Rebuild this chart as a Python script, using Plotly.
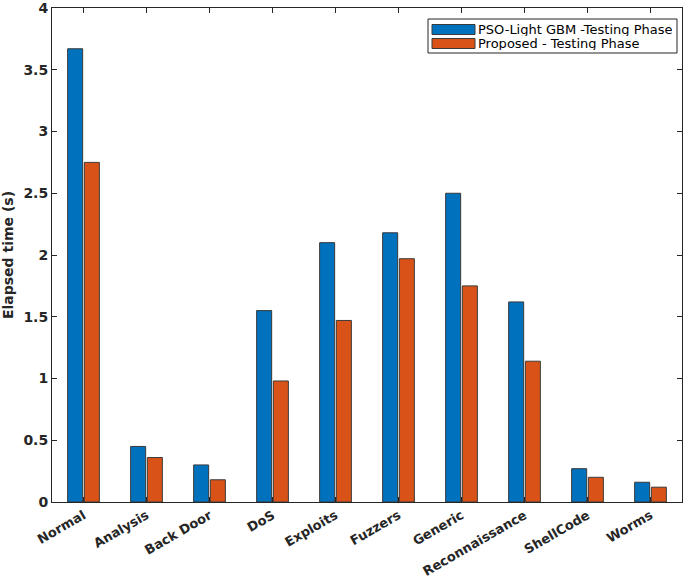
import plotly.graph_objects as go

categories = ["Normal", "Analysis", "Back Door", "DoS", "Exploits", "Fuzzers",
              "Generic", "Reconnaissance", "ShellCode", "Worms"]
pso_lgbm = [3.67, 0.45, 0.30, 1.55, 2.10, 2.18, 2.50, 1.62, 0.27, 0.16]
proposed = [2.75, 0.36, 0.18, 0.98, 1.47, 1.97, 1.75, 1.14, 0.20, 0.12]
series_names = ["PSO-Light GBM -Testing Phase", "Proposed - Testing Phase"]
series_colors = ["#0072BD", "#D95319"]
y_ticks = [0, 0.5, 1, 1.5, 2, 2.5, 3, 3.5, 4]
y_ticklabels = ["0", "0.5", "1", "1.5", "2", "2.5", "3", "3.5", "4"]

font_family = "DejaVu Sans"
edge = dict(color="#3a3a3a", width=1)

W, H = 685, 578
ML, MR, MT, MB = 52, 3, 8, 76
PW, PH = W - ML - MR, H - MT - MB


def px(x):
    return (x - ML) / PW


def py(y):
    return (H - MB - y) / PH


fig = go.Figure()
for vals, name, col in zip([pso_lgbm, proposed], series_names, series_colors):
    fig.add_trace(go.Bar(x=categories, y=vals, name=name,
                         marker=dict(color=col, line=edge), showlegend=False))

axis_common = dict(showline=True, linecolor="#262626", linewidth=1, mirror="ticks",
                   ticks="inside", ticklen=5, tickcolor="#262626", showgrid=False,
                   zeroline=False, automargin=False, ticklabeloverflow="allow")

# custom MATLAB-style legend
shapes = [dict(type="rect", xref="paper", yref="paper",
               x0=px(428), x1=px(677), y0=py(53), y1=py(19),
               line=dict(color="#262626", width=1), fillcolor="white", layer="above")]
annotations = []
for i, (name, col) in enumerate(zip(series_names, series_colors)):
    cy = 29.5 + 14 * i
    shapes.append(dict(type="rect", xref="paper", yref="paper",
                       x0=px(432), x1=px(475), y0=py(cy + 5), y1=py(cy - 5),
                       line=dict(color="#3a3a3a", width=1), fillcolor=col, layer="above"))
    annotations.append(dict(xref="paper", yref="paper", x=px(477), y=py(cy),
                            xanchor="left", yanchor="middle", showarrow=False,
                            height=13, valign="middle", borderpad=0,
                            text=name, font=dict(family=font_family, size=13, color="#000000")))

fig.update_layout(
    width=W, height=H,
    margin=dict(l=ML, r=MR, t=MT, b=MB),
    paper_bgcolor="white", plot_bgcolor="white",
    barmode="group", bargap=0.47, bargroupgap=0.1,
    font=dict(family=font_family, color="#262626"),
    xaxis=dict(axis_common, range=[-0.5, 9.5], tickangle=-30,
               tickfont=dict(family=font_family, size=13, color="#262626", weight="bold")),
    yaxis=dict(axis_common, range=[0, 4], tickvals=y_ticks, ticktext=y_ticklabels,
               tickfont=dict(family=font_family, size=14, color="#262626", weight="bold"),
               title=dict(text="Elapsed time (s)", standoff=8,
                          font=dict(family=font_family, size=14, color="#262626", weight="bold"))),
    shapes=shapes,
    annotations=annotations,
    showlegend=False,
)

fig.write_html("out.html", config={"displayModeBar": False},
               post_script="document.body.style.margin='0';")
